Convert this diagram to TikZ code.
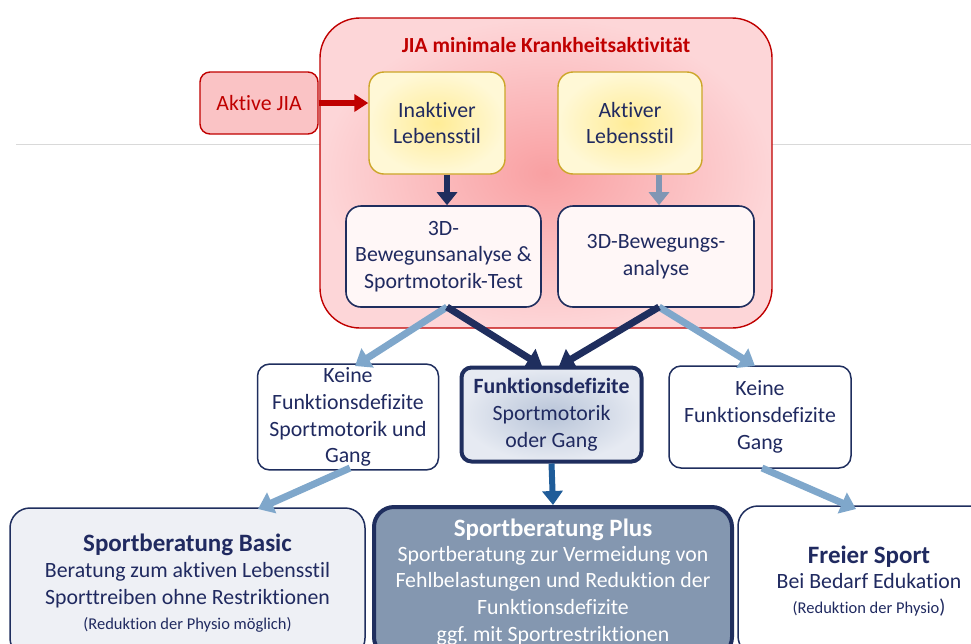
\documentclass[tikz,border=0pt]{standalone}
\usepackage{fontspec}
\setmainfont{Carlito}[Ligatures=NoCommon]
\usetikzlibrary{arrows.meta,shadings}
\frenchspacing

\definecolor{navy}{RGB}{31,46,94}
\definecolor{txtblue}{RGB}{32,42,96}
\definecolor{jiared}{RGB}{192,0,0}
\definecolor{pinkin}{RGB}{249,160,162}
\definecolor{pinkout}{RGB}{253,214,216}
\definecolor{yelin}{RGB}{255,236,150}
\definecolor{yelout}{RGB}{255,248,214}
\definecolor{gold}{RGB}{204,166,40}
\definecolor{lightarrow}{RGB}{127,167,203}
\definecolor{midarrow}{RGB}{128,150,180}
\definecolor{downarrow}{RGB}{31,92,153}
\definecolor{plusfill}{RGB}{132,151,176}
\definecolor{basicfill}{RGB}{238,240,245}
\definecolor{fdin}{RGB}{184,196,216}
\definecolor{fdout}{RGB}{230,234,242}
\definecolor{jiafill}{RGB}{248,170,172}

\tikzset{
  body/.style={font=\fontsize{21.8}{26.8}\selectfont, text=txtblue, align=center},
  yelbox/.style={body, draw=gold, line width=1.4pt, rounded corners=15pt,
    inner color=yelin, outer color=yelout, minimum width=136pt, minimum height=102pt},
  analysebox/.style={body, draw=navy, line width=1.6pt, rounded corners=15pt,
    fill=pink!12!white, minimum width=195pt, minimum height=101pt},
  keinebox/.style={body, draw=navy, line width=1.5pt, rounded corners=12pt,
    fill=white, minimum width=181pt, minimum height=102pt},
  endbox/.style={body, rounded corners=20pt, minimum height=150pt},
  darkarrow/.style={draw=navy, line width=7pt,
    -{Triangle[width=22pt,length=15pt]}, shorten >=1pt},
  palearrow/.style={draw=lightarrow, line width=7pt,
    -{Triangle[width=22pt,length=15pt]}},
}

\begin{document}
\begin{tikzpicture}[x=1pt,y=-1pt]
  \useasboundingbox (0,0) rectangle (971,643);

  % thin separator line behind the diagram
  \coordinate (sepL) at (16,144);
  \coordinate (sepR) at (971,144);
  \draw[black!15, line width=1pt] (sepL) -- (sepR);

  % outer frame: minimal disease activity
  \node[draw=jiared, line width=1.4pt, rounded corners=40pt,
        inner color=pinkin, outer color=pinkout,
        minimum width=452pt, minimum height=310pt] (frame) at (546,173) {};
  \node[font=\fontsize{21.5}{25}\selectfont\bfseries, text=jiared] (title) at (546,45)
    {JIA minimale Krankheitsaktivität};

  % lifestyle boxes
  \node[yelbox] (inakt) at (437,123) {Inaktiver\\Lebensstil};
  \node[yelbox, minimum width=144pt] (akt) at (630,123) {Aktiver\\Lebensstil};

  % motion analysis boxes
  \node[analysebox] (ana1) at (443.5,256.5) {3D-\\Bewegunsanalyse \&\\Sportmotorik-Test};
  \node[analysebox, minimum width=196pt] (ana2) at (656,256.5) {3D-Bewegungs-\\analyse};

  % active JIA entry
  \node[draw=jiared, line width=1.4pt, rounded corners=10pt,
        fill=jiafill, fill opacity=0.7, text opacity=1,
        text=jiared, font=\fontsize{21.8}{26}\selectfont,
        minimum width=118pt, minimum height=62pt] (aktjia) at (259,103) {Aktive JIA};
  \draw[jiared, line width=6pt, -{Triangle[width=17pt,length=14pt]}]
    (aktjia.east) -- (inakt.west |- aktjia.east);

  % arrows inside the frame
  \draw[draw=navy, line width=6.5pt, -{Triangle[width=20pt,length=13pt]}]
    (inakt.south -| 447,0) -- (ana1.north -| 447,0);
  \draw[draw=midarrow, line width=6.5pt, -{Triangle[width=20pt,length=13pt]}]
    (akt.south -| 659,0) -- (ana2.north -| 659,0);

  % result boxes
  \node[keinebox] (keine1) at (348,417) {Keine\\Funktionsdefizite\\Sportmotorik und\\Gang};
  \node[body, draw=navy, line width=4pt, rounded corners=10pt,
        inner color=fdin, outer color=fdout,
        minimum width=180pt, minimum height=94pt] (fdef) at (551.5,414.5)
    {\textbf{Funktionsdefizite}\\Sportmotorik\\oder Gang};
  \node[keinebox, minimum width=182pt] (keine2) at (760,417) {Keine\\Funktionsdefizite\\Gang};

  % connectors from the analysis boxes
  \coordinate (a1b) at (447,307);
  \coordinate (a2b) at (659,307);
  \coordinate (k1t) at (355,366);
  \coordinate (k2t) at (755,366);
  \coordinate (fdl) at (543,367);
  \coordinate (fdr) at (558,367);
  \draw[palearrow] (a1b) -- (k1t);
  \draw[palearrow] (a2b) -- (k2t);
  \draw[darkarrow] (a1b) -- (fdl);
  \draw[darkarrow] (a2b) -- (fdr);

  % recommendation boxes
  \node[endbox, draw=navy, line width=1.5pt, fill=basicfill,
        minimum width=355pt] (basic) at (187.5,583)
    {{\fontsize{25}{29}\selectfont\bfseries Sportberatung Basic}\\[-1pt]
     Beratung zum aktiven Lebensstil\\
     Sporttreiben ohne Restriktionen\\[-2pt]
     {\fontsize{16.5}{20}\selectfont(Reduktion der Physio möglich)}};
  \node[endbox, draw=navy, line width=4pt, fill=plusfill, text=white,
        minimum width=358pt] (plus) at (553,582)
    {{\fontsize{25}{28}\selectfont\bfseries Sportberatung Plus}\\[-2pt]
     Sportberatung zur Vermeidung von\\
     Fehlbelastungen und Reduktion der\\
     Funktionsdefizite\\
     ggf. mit Sportrestriktionen};
  \node[endbox, draw=navy, line width=1.5pt, fill=white,
        minimum width=262pt] (frei) at (869,581)
    {{\fontsize{25}{29}\selectfont\bfseries Freier Sport}\\[-1pt]
     Bei Bedarf Edukation\\[-2pt]
     {\fontsize{16.5}{20}\selectfont(Reduktion der Physio}{\fontsize{20}{20}\selectfont)}};

  % connectors to the recommendations
  \coordinate (k1b) at (350,468);
  \coordinate (k2b) at (762,468);
  \coordinate (bt) at (258,509);
  \coordinate (ft) at (856,509);
  \draw[palearrow] (k1b) -- (bt);
  \draw[palearrow] (k2b) -- (ft);
  \draw[draw=downarrow, line width=6pt, -{Triangle[width=20pt,length=14pt]}]
    (fdef.south) -- (plus.north);
\end{tikzpicture}
\end{document}
